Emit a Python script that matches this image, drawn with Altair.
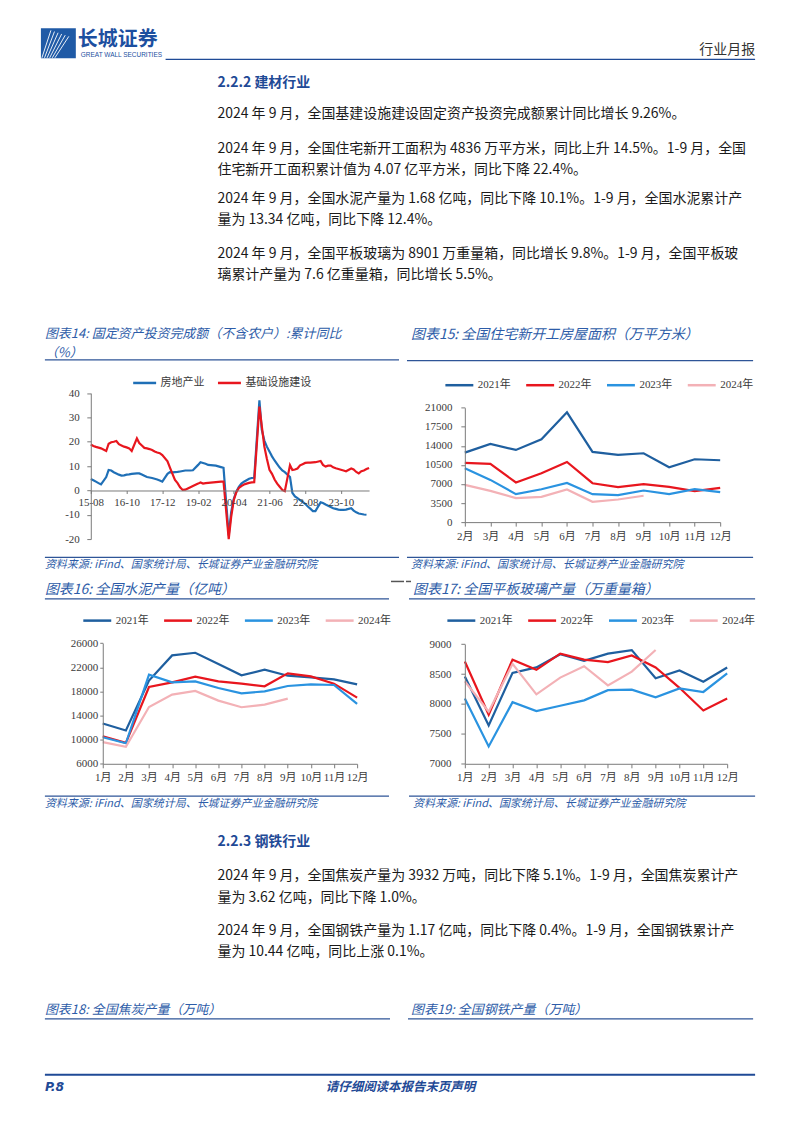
import altair as alt
import pandas as pd

# ---------------- data ----------------
# 图表14: 固定资产投资完成额（不含农户）累计同比 (%) — Jan not published (None)
S14 = ["房地产业", "基础设施建设"]
C14 = ["#1f6fb6", "#e8161e"]
X14_TICKS = [(2015, 8), (2016, 10), (2017, 12), (2019, 2), (2020, 4), (2021, 6), (2022, 8), (2023, 10)]
Y14_TICKS = [-20, -10, 0, 10, 20, 30, 40]
RE14 = {  # 房地产业, Jan..Dec
    2015: [None, None, None, None, None, None, None, 4.7, 4.2, 3.6, 3.0, 2.5],
    2016: [None, 5.5, 8.4, 8.2, 7.5, 7.0, 6.5, 6.1, 6.2, 6.5, 6.6, 6.8],
    2017: [None, 7.0, 7.0, 6.5, 6.0, 5.5, 5.3, 5.1, 4.8, 4.5, 4.1, 3.6],
    2018: [None, 6.8, 7.5, 7.4, 7.5, 7.6, 7.8, 8.0, 8.2, 8.2, 8.2, 8.3],
    2019: [None, 10.5, 11.6, 11.3, 11.0, 10.5, 10.4, 10.3, 10.2, 9.9, 9.6, 9.3],
    2020: [None, -18.5, -9.0, -3.5, -0.5, 1.5, 2.8, 3.6, 4.2, 4.8, 5.1, 5.2],
    2021: [None, 37.0, 25.0, 20.5, 18.0, 16.0, 14.0, 12.3, 10.8, 9.4, 8.2, 7.5],
    2022: [None, 5.5, -1.0, -2.5, -3.2, -4.0, -4.7, -5.5, -6.6, -7.5, -8.5, -8.5],
    2023: [None, -4.9, -5.2, -5.8, -6.3, -6.8, -7.3, -7.6, -7.9, -8.0, -8.0, -7.9],
    2024: [None, -7.3, -8.3, -9.0, -9.5, -9.7, -9.9, -10.0, None, None, None, None],
}
INFRA14 = {  # 基础设施建设, Jan..Dec
    2015: [None, None, None, None, None, None, None, 18.9, 18.3, 17.9, 17.6, 17.3],
    2016: [None, 16.2, 19.2, 19.8, 20.0, 20.3, 19.0, 18.5, 18.0, 17.7, 17.3, 16.2],
    2017: [None, 21.4, 19.5, 18.5, 17.5, 17.3, 17.0, 16.6, 16.0, 15.6, 15.3, 14.5],
    2018: [None, 12.0, 9.5, 6.8, 4.3, 3.0, 1.3, 0.2, 0.3, 0.8, 1.3, 1.8],
    2019: [None, 2.8, 3.3, 2.8, 3.0, 3.1, 3.2, 3.3, 3.4, 3.5, 3.6, 3.6],
    2020: [None, -20.0, -11.0, -4.0, -0.8, 1.0, 1.8, 2.4, 2.8, 3.1, 3.3, 3.4],
    2021: [None, 34.5, 26.5, 18.0, 13.0, 8.5, 6.8, 4.5, 2.8, 1.5, 0.2, -0.3],
    2022: [None, 10.4, 8.4, 8.6, 9.0, 10.3, 10.8, 11.3, 11.4, 11.4, 11.5, 11.6],
    2023: [None, 12.1, 10.5, 9.8, 10.2, 10.2, 9.5, 9.1, 8.8, 8.5, 8.2, 7.9],
    2024: [None, 9.0, 8.6, 7.6, 7.0, 7.9, 8.2, 8.8, 9.26, None, None, None],
}

YEARS = ["2021年", "2022年", "2023年", "2024年"]
YEAR_COLORS = ["#1f5f9f", "#e8161e", "#2a93e0", "#f3b1b6"]

# 图表15: 全国住宅新开工房屋面积（万平方米）
M15 = ["2月", "3月", "4月", "5月", "6月", "7月", "8月", "9月", "10月", "11月", "12月"]
Y15_TICKS = [0, 3500, 7000, 10500, 14000, 17500, 21000]
H15 = {
    "2021年": [12760, 14350, 13250, 15200, 20150, 12880, 12330, 12640, 10070, 11540, 11360],
    "2022年": [10870, 10680, 7270, 8970, 11050, 7140, 6410, 6960, 6470, 5680, 6290],
    "2023年": [9890, 7750, 5130, 6040, 7200, 5130, 4950, 5800, 5130, 6040, 5490],
    "2024年": [6840, 5740, 4400, 4640, 5980, 3720, 4150, 4836],
}

M12 = ["1月", "2月", "3月", "4月", "5月", "6月", "7月", "8月", "9月", "10月", "11月", "12月"]
# 图表16: 全国水泥产量
Y16_TICKS = [6000, 10000, 14000, 18000, 22000, 26000]
CEM16 = {
    "2021年": [12670, 11510, 19800, 23960, 24400, 22530, 20660, 21590, 20600, 20330, 20000, 19170],
    "2022年": [10570, 9470, 18730, 19500, 20440, 19660, 19280, 18840, 20990, 20490, 19280, 16960],
    "2023年": [10400, 9400, 20770, 19500, 19660, 18560, 17680, 18010, 18890, 19170, 19060, 15920],
    "2024年": [9580, 8810, 15420, 17460, 18070, 16470, 15370, 15810, 16800],
}
# 图表17: 全国平板玻璃产量（万重量箱）
Y17_TICKS = [7000, 7500, 8000, 8500, 9000]
GLS17 = {
    "2021年": [8460, 7640, 8520, 8610, 8830, 8720, 8840, 8900, 8430, 8560, 8370, 8610],
    "2022年": [8710, 7820, 8740, 8570, 8840, 8740, 8700, 8810, 8610, 8270, 7890, 8090],
    "2023年": [8090, 7290, 8030, 7880, 7970, 8060, 8230, 8240, 8110, 8260, 8200, 8510],
    "2024年": [8380, 7870, 8670, 8160, 8440, 8630, 8310, 8540, 8901],
}

# ---------------- text ----------------
PARA_A = [
    "2024 年 9 月，全国基建设施建设固定资产投资完成额累计同比增长 9.26%。",
    "2024 年 9 月，全国住宅新开工面积为 4836 万平方米，同比上升 14.5%。1-9 月，全国",
    "住宅新开工面积累计值为 4.07 亿平方米，同比下降 22.4%。",
    "2024 年 9 月，全国水泥产量为 1.68 亿吨，同比下降 10.1%。1-9 月，全国水泥累计产",
    "量为 13.34 亿吨，同比下降 12.4%。",
    "2024 年 9 月，全国平板玻璃为 8901 万重量箱，同比增长 9.8%。1-9 月，全国平板玻",
    "璃累计产量为 7.6 亿重量箱，同比增长 5.5%。",
]
PARA_D = [
    "2024 年 9 月，全国焦炭产量为 3932 万吨，同比下降 5.1%。1-9 月，全国焦炭累计产",
    "量为 3.62 亿吨，同比下降 1.0%。",
    "2024 年 9 月，全国钢铁产量为 1.17 亿吨，同比下降 0.4%。1-9 月，全国钢铁累计产",
    "量为 10.44 亿吨，同比上涨 0.1%。",
]
SOURCE = "资料来源: iFind、国家统计局、长城证券产业金融研究院"

# ---------------- styles ----------------
CJK = "Noto Sans CJK SC"
SERIF = "Liberation Serif, Noto Sans CJK SC"
BODY_C = "#1a1a1a"
NAVY = "#1f4a96"
TBLUE = "#2d5ca8"
RULE_C = "#2e5597"
AXC = "#7a7a7a"
LBC = "#3a3a3a"

ONE = alt.Data(values=[{"k": 1}])


def txt(s, x, y, size=14, color=BODY_C, font=CJK, weight="normal", style="normal", align="left"):
    return alt.Chart(ONE).mark_text(
        align=align, baseline="middle", fontSize=size, color=color, font=font,
        fontWeight=weight, fontStyle=style,
    ).encode(x=alt.value(x), y=alt.value(y), text=alt.value(s))


def rule(x1, x2, y, color=RULE_C, w=1.3):
    return alt.Chart(ONE).mark_rule(color=color, strokeWidth=w).encode(
        x=alt.value(x1), x2=alt.value(x2), y=alt.value(y))


def seg(x1, y1, x2, y2, color, w=1.0):
    return alt.Chart(ONE).mark_rule(color=color, strokeWidth=w).encode(
        x=alt.value(x1), x2=alt.value(x2), y=alt.value(y1), y2=alt.value(y2))


def box(x1, x2, y1, y2, color="white"):
    return alt.Chart(ONE).mark_rect(color=color).encode(
        x=alt.value(x1), x2=alt.value(x2), y=alt.value(y1), y2=alt.value(y2))


def dt(y, m):
    return alt.DateTime(year=y, month=m, date=15)


def ax(**kw):
    base = dict(title=None, grid=False, domainColor=AXC, tickColor=AXC, labelColor=LBC,
                labelFont=SERIF, labelFontSize=11, zindex=1)
    base.update(kw)
    return alt.Axis(**base)


def legend(lx, ly, sym_len, colpad=10):
    return alt.Legend(
        title=None, orient="none", legendX=lx, legendY=ly, direction="horizontal", columns=4,
        symbolType="stroke", symbolSize=sym_len * sym_len, symbolStrokeWidth=2.5,
        labelFont=SERIF, labelFontSize=11, labelColor=LBC, labelOffset=3,
        columnPadding=colpad, padding=0, offset=0,
    )


# Every panel's origin is its own top-left corner; plots are placed with explicit scale ranges.
# ---------------- row A: header + section text (786 x 310) ----------------
rowA_layers = [
    box(0, 786, 0, 310),
    box(33, 68, 19, 49, "#1f5aa6"),
]
for k in range(6):
    rowA_layers.append(seg(34 + 2.6 * k, 48.5, 43 + 3.6 * k, 21 + 1.2 * k, "white", 0.9))
rowA_layers += [
    txt("长城证券", 70, 30.5, size=20, color="#1c4fa0", weight="bold"),
    txt("GREAT WALL SECURITIES", 73, 46, size=6.5, color="#1c4fa0",
        font="Liberation Sans Narrow, Liberation Sans"),
    txt("行业月报", 749, 41, size=14, color="#333333", align="right"),
    rule(158, 749, 50, NAVY, 1.2),
    txt("2.2.2 建材行业", 210, 73.5, size=14, color=NAVY, weight="bold"),
]
for s, y in zip(PARA_A, [105, 139.5, 160.5, 190, 211, 245, 266]):
    rowA_layers.append(txt(s, 210, y))
rowA = alt.layer(*rowA_layers).properties(width=786, height=310)

# ---------------- chart 14 (397 x 254) ----------------
rows14 = []
for name, table in zip(S14, [RE14, INFRA14]):
    for year, vals in table.items():
        for i, v in enumerate(vals):
            if v is not None:
                rows14.append({"日期": f"{year}-{i + 1:02d}-15", "数值": v, "系列": name})
df14 = pd.DataFrame(rows14)

c14_lines = alt.Chart(df14).mark_line(strokeWidth=2.2).encode(
    x=alt.X("日期:T", scale=alt.Scale(domain=[dt(2015, 8), dt(2024, 9)], range=[83, 362]),
            axis=ax(values=[dt(y, m) for y, m in X14_TICKS], format="%y-%m", labelFlush=False,
                    labelOverlap=False, offset=-81.7, tickSize=3, labelPadding=3.5)),
    y=alt.Y("数值:Q", scale=alt.Scale(domain=[-20, 40], nice=False, zero=False, range=[221, 74.7]),
            axis=ax(values=Y14_TICKS, tickSize=4, labelPadding=7.5, offset=-83,
                    labelExpr="'' + datum.value")),
    color=alt.Color("系列:N", sort=S14, scale=alt.Scale(domain=S14, range=C14),
                    legend=legend(124, 51.5, 23, 8)),
)
c14 = alt.layer(
    box(0, 397, 0, 254),
    txt("图表14: 固定资产投资完成额（不含农户）:累计同比", 37, 15.5, size=13, color=TBLUE, style="italic"),
    txt("（%）", 37, 34.5, size=13, color=TBLUE, style="italic"),
    rule(37, 392, 41.3),
    c14_lines,
    rule(37, 392, 239.3),
    txt(SOURCE, 37, 247, size=11, color=TBLUE, style="italic"),
).properties(width=397, height=254)


# ---------------- yearly charts ----------------
def long_frame(months, table):
    rows = []
    for year, vals in table.items():
        for m, v in zip(months, vals):
            rows.append({"月份": m, "年份": year, "数值": v})
    return pd.DataFrame(rows)


def yearly(df, months, dom, ticks, xr, yr, cell_h, lx, ly, ytick, ypad, xpad):
    return alt.Chart(df).mark_line(strokeWidth=2.2).encode(
        x=alt.X("月份:O", sort=months, scale=alt.Scale(type="point", padding=0, range=xr),
                axis=ax(labelAngle=0, tickSize=4, labelPadding=xpad, offset=-(cell_h - yr[0]))),
        y=alt.Y("数值:Q", scale=alt.Scale(domain=dom, nice=False, zero=False, range=yr),
                axis=ax(values=ticks, format="d", tickSize=ytick, labelPadding=ypad, offset=-xr[0])),
        color=alt.Color("年份:N", sort=YEARS, scale=alt.Scale(domain=YEARS, range=YEAR_COLORS),
                        legend=legend(lx, ly, 28, 10)),
    )


c15 = alt.layer(
    box(0, 389, 0, 254),
    txt("图表15: 全国住宅新开工房屋面积（万平方米）", 7, 16.5, size=14, color=TBLUE, style="italic"),
    rule(3, 350, 42),
    yearly(long_frame(M15, H15), M15, [0, 21000], Y15_TICKS, [61, 317], [204, 89.3], 254,
           40, 51, 4, 9, 4.5),
    rule(3, 350, 239.3),
    txt(SOURCE, 7, 247, size=11, color=TBLUE, style="italic"),
).properties(width=389, height=254)

c16 = alt.layer(
    box(0, 397, 0, 250),
    rule(384, 397, 9.5, "#555555", 1.5),
    txt("图表16: 全国水泥产量（亿吨）", 37, 18, size=14, color=TBLUE, style="italic"),
    rule(37, 382, 27),
    yearly(long_frame(M12, CEM16), M12, [6000, 26000], Y16_TICKS, [95, 350], [192.3, 71.3], 250,
           74, 33, 3, 2, 4),
    rule(37, 382, 224.7),
    txt(SOURCE, 37, 232.3, size=11, color=TBLUE, style="italic"),
).properties(width=397, height=250)

c17 = alt.layer(
    box(0, 389, 0, 250),
    rule(0, 5, 9.5, "#555555", 1.5),
    txt("图表17: 全国平板玻璃产量（万重量箱）", 7, 18, size=14, color=TBLUE, style="italic"),
    rule(3, 350, 27),
    yearly(long_frame(M12, GLS17), M12, [7000, 9000], Y17_TICKS, [59, 322], [192.3, 72.3], 250,
           40, 33, 4, 10, 4),
    rule(3, 350, 224.7),
    txt(SOURCE, 7, 232.3, size=11, color=TBLUE, style="italic"),
).properties(width=389, height=250)

# ---------------- row D (786 x 303) ----------------
rowD_layers = [
    box(0, 786, 0, 303),
    txt("2.2.3 钢铁行业", 210, 21, size=14, color=NAVY, weight="bold"),
]
for s, y in zip(PARA_D, [54.5, 76.5, 109.5, 131]):
    rowD_layers.append(txt(s, 210, y))
rowD_layers += [
    txt("图表18: 全国焦炭产量（万吨）", 37, 189.5, size=13, color=TBLUE, style="italic"),
    rule(37, 383, 198),
    txt("图表19: 全国钢铁产量（万吨）", 404, 189.5, size=13, color=TBLUE, style="italic"),
    rule(401, 747, 198),
    rule(37, 749, 254, NAVY, 2),
    txt("P.8", 37, 266, size=12.5, color=NAVY, weight="bold", style="italic", font="DejaVu Sans"),
    txt("请仔细阅读本报告末页声明", 393.5, 266, size=12.5, color=NAVY, weight="bold",
        style="italic", align="center"),
]
rowD = alt.layer(*rowD_layers).properties(width=786, height=303)

rowB = alt.hconcat(c14, c15, spacing=0).resolve_scale(
    color="independent").resolve_legend(color="independent")
rowC = alt.hconcat(c16, c17, spacing=0).resolve_scale(
    color="independent").resolve_legend(color="independent")

chart = alt.vconcat(rowA, rowB, rowC, rowD, spacing=0, padding=0).resolve_scale(
    color="independent").resolve_legend(color="independent").configure_view(stroke=None)

chart.save("out.html", embed_options={"renderer": "svg", "actions": False})
